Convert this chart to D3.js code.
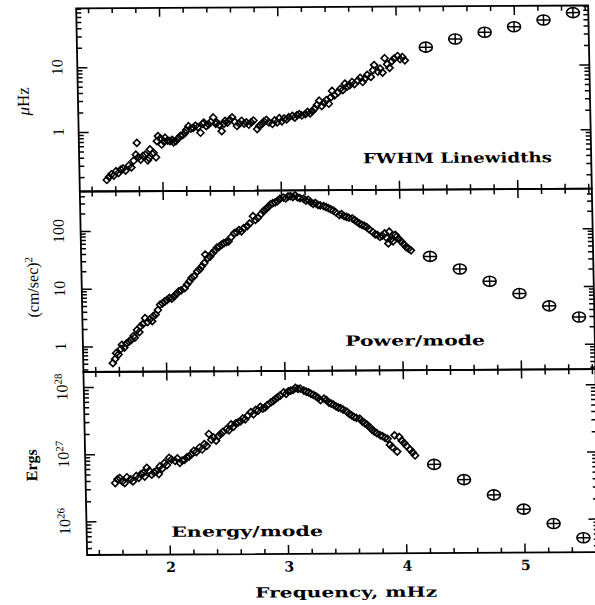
<!DOCTYPE html>
<html><head><meta charset="utf-8">
<script src="https://cdn.jsdelivr.net/npm/d3@7"></script>
<style>body{margin:0;background:#fff}svg{display:block}</style>
</head><body>
<svg id="c" width="595" height="605"></svg>
<script>
// ---------- DATA ----------
const lwFreq=[1.53,1.55,1.57,1.59,1.61,1.63,1.65,1.67,1.69,1.72,1.74,1.76,1.78,1.79,1.80,1.82,1.84,1.86,1.88,1.89,1.90,1.92,1.93,1.95,1.96,1.97,1.99,2.00,2.02,2.03,2.05,2.07,2.09,2.10,2.12,2.14,2.16,2.18,2.20,2.21,2.23,2.25,2.27,2.29,2.31,2.33,2.35,2.36,2.38,2.40,2.42,2.44,2.46,2.47,2.49,2.51,2.53,2.54,2.56,2.58,2.60,2.62,2.64,2.66,2.68,2.70,2.72,2.74,2.76,2.78,2.81,2.83,2.85,2.87,2.89,2.91,2.94,2.96,2.98,3.00,3.02,3.04,3.06,3.08,3.11,3.13,3.15,3.17,3.19,3.22,3.24,3.26,3.28,3.30,3.32,3.34,3.36,3.38,3.40,3.42,3.44,3.45,3.47,3.50,3.52,3.54,3.56,3.58,3.60,3.62,3.64,3.67,3.69,3.71,3.73,3.75,3.78,3.80,3.81,3.84,3.86,3.88,3.90,3.92,3.94,3.96,3.98,4.01,4.03,4.05,4.07];
const lwVal=[0.18,0.20,0.22,0.21,0.245,0.23,0.26,0.27,0.25,0.30,0.28,0.355,0.44,0.67,0.40,0.37,0.42,0.44,0.36,0.39,0.53,0.45,0.47,0.40,0.71,0.85,0.78,0.63,0.70,0.80,0.72,0.71,0.74,0.68,0.71,0.78,0.85,0.88,0.95,1.05,1.20,1.10,1.13,1.22,1.15,0.95,1.30,1.36,1.20,1.28,1.40,1.63,1.30,1.36,1.25,1.00,1.30,1.44,1.35,1.50,1.63,1.40,1.20,1.30,1.44,1.30,1.36,1.25,1.36,1.45,1.07,1.20,1.28,1.40,1.48,1.35,1.28,1.45,1.35,1.57,1.40,1.55,1.50,1.62,1.70,1.60,1.75,1.80,1.72,1.80,1.95,1.85,2.00,2.20,2.50,2.90,2.40,2.70,2.95,2.60,3.30,4.10,3.50,3.90,4.40,4.20,5.30,4.80,5.00,5.60,5.20,5.90,6.50,5.60,6.30,7.20,6.70,8.50,10.2,8.10,9.00,7.80,13.0,10.5,9.20,11.7,12.8,14.0,12.5,13.5,12.0];

const powFreq=[1.55,1.57,1.58,1.60,1.62,1.63,1.65,1.67,1.69,1.71,1.73,1.74,1.76,1.78,1.79,1.81,1.83,1.85,1.87,1.89,1.90,1.92,1.94,1.96,1.98,2.00,2.02,2.04,2.06,2.08,2.10,2.12,2.14,2.17,2.19,2.21,2.23,2.25,2.28,2.30,2.32,2.34,2.35,2.37,2.39,2.41,2.43,2.45,2.47,2.49,2.51,2.53,2.55,2.57,2.60,2.62,2.64,2.66,2.68,2.71,2.73,2.76,2.78,2.80,2.83,2.85,2.87,2.89,2.91,2.93,2.95,2.97,2.99,3.02,3.04,3.06,3.08,3.10,3.12,3.14,3.16,3.19,3.21,3.23,3.25,3.27,3.29,3.31,3.33,3.36,3.38,3.40,3.42,3.44,3.46,3.49,3.51,3.53,3.55,3.57,3.60,3.62,3.64,3.66,3.68,3.70,3.72,3.74,3.77,3.79,3.81,3.83,3.85,3.87,3.89,3.90,3.91,3.92,3.94,3.96,3.97,3.99,4.01,4.03,4.05,4.07,4.09];
const powVal=[0.51,0.60,0.76,0.72,0.90,1.06,0.95,1.12,1.20,1.29,1.50,1.40,1.90,1.75,2.20,2.40,3.05,2.60,2.90,2.70,3.30,3.50,4.20,5.20,5.50,5.90,6.30,6.80,6.60,7.20,8.00,8.80,9.20,10.0,11.5,13.0,15.0,16.0,19.5,21.0,24.0,27.0,38.0,33.0,35.0,40.0,44.0,50.0,52.0,56.0,60.0,62.0,64.0,75.0,89.0,92.0,100,95.0,108,117,130,174,150,162,190,212,230,250,276,290,300,315,345,363,350,380,385,370,395,363,355,344,320,330,300,281,290,270,263,255,245,235,225,214,200,178,185,170,166,160,155,145,135,126,120,115,110,100,90,82,80,74,78,85,70,57,91,66,62,80,74,68,61,55,49,46,43];

const enFreq=[1.55,1.57,1.59,1.61,1.63,1.65,1.68,1.70,1.73,1.75,1.77,1.79,1.80,1.82,1.84,1.86,1.88,1.90,1.92,1.93,1.95,1.97,1.99,2.01,2.03,2.06,2.08,2.10,2.12,2.14,2.16,2.18,2.20,2.22,2.24,2.27,2.29,2.31,2.33,2.35,2.37,2.39,2.41,2.43,2.45,2.47,2.50,2.52,2.54,2.56,2.58,2.60,2.62,2.64,2.66,2.68,2.71,2.73,2.75,2.77,2.79,2.81,2.83,2.85,2.88,2.90,2.92,2.94,2.96,2.99,3.01,3.03,3.05,3.07,3.09,3.11,3.13,3.16,3.18,3.20,3.22,3.24,3.26,3.28,3.30,3.33,3.35,3.37,3.39,3.41,3.43,3.45,3.47,3.49,3.52,3.54,3.56,3.58,3.60,3.63,3.65,3.67,3.69,3.71,3.73,3.75,3.77,3.80,3.82,3.84,3.86,3.88,3.90,3.92,3.94,3.96,3.98,4.00,4.02,4.05,4.07,4.09];
const enVal=[3.7e26,4.2e26,4.4e26,3.9e26,3.7e26,4.5e26,4.2e26,3.9e26,4.7e26,4.4e26,5.0e26,5.2e26,4.6e26,6.2e26,5.6e26,4.9e26,5.3e26,5.5e26,5.0e26,6.5e26,6.0e26,7.3e26,6.8e26,8.7e26,8.2e26,7.8e26,8.5e26,7.3e26,7.9e26,8.1e26,8.8e26,9.1e26,9.8e26,1.1e27,1.05e27,1.23e27,1.15e27,1.38e27,1.30e27,1.95e27,1.6e27,1.73e27,1.55e27,1.8e27,1.95e27,2.1e27,2.3e27,2.2e27,2.7e27,2.5e27,2.8e27,2.9e27,3.0e27,3.3e27,3.2e27,3.6e27,4.1e27,3.8e27,4.4e27,4.3e27,4.9e27,4.6e27,4.8e27,5.2e27,5.7e27,6.0e27,6.4e27,6.8e27,7.2e27,8.0e27,7.6e27,8.3e27,8.5e27,8.7e27,9.3e27,9.0e27,9.1e27,8.5e27,8.2e27,8.0e27,7.6e27,7.3e27,7.0e27,6.6e27,6.1e27,6.4e27,6.1e27,5.6e27,5.4e27,5.2e27,4.9e27,4.7e27,4.6e27,4.4e27,4.1e27,3.8e27,3.6e27,3.4e27,3.3e27,3.2e27,2.9e27,2.75e27,2.6e27,2.4e27,2.2e27,2.05e27,1.95e27,1.8e27,1.75e27,1.65e27,1.6e27,1.3e27,1.2e27,1.8e27,1.03e27,1.7e27,1.5e27,1.38e27,1.25e27,1.1e27,1.0e27,9.0e26];

const ccFreq=[4.25,4.50,4.75,5.00,5.25,5.50];
const ccLw=[19.1,25.4,32.1,38.9,49.1,63.4];
const ccPow=[33.6,20.2,12.3,7.5,4.55,2.9];
const ccEn=[6.6e26,3.9e26,2.3e26,1.4e26,8.5e25,5.2e25];

const xTickLabels=[2,3,4,5];
const lwTicks=[1,10];
const powTicks=[1,10,100];
const enTickExp=[26,27,28];

// ---------- LAYOUT ----------
const L=76,R=588;
const P=[{top:8.3,bot:191.5},{top:191.5,bot:372},{top:372,bot:555}];
const x=d3.scaleLinear().domain([1.3,5.63]).range([L,R]);
const yLw=d3.scaleLog().domain([0.12,81.6]).range([P[0].bot,P[0].top]);
const yPow=d3.scaleLog().domain([0.361,483]).range([P[1].bot,P[1].top]);
const yEn=d3.scaleLog().domain([Math.pow(10,25.5),Math.pow(10,28.223)]).range([P[2].bot,P[2].top]);

const svg=d3.select('#c');
svg.append('rect').attr('width',595).attr('height',605).attr('fill','#fff');
const g=svg.append('g').attr('transform','matrix(1,-0.0055,0.02,1,0,0.418)');

function logMinor(y){
  const [a,b]=y.domain();const out=[];
  for(let n=Math.floor(Math.log10(a));n<=Math.ceil(Math.log10(b));n++){
    for(let k=2;k<=9;k++){const v=k*Math.pow(10,n); if(v>=a&&v<=b) out.push(v);}
  }
  return out;
}
function logMajor(y){
  const [a,b]=y.domain();const out=[];
  for(let n=Math.floor(Math.log10(a));n<=Math.ceil(Math.log10(b));n++){const v=Math.pow(10,n); if(v>=a&&v<=b) out.push(v);}
  return out;
}
function side(gp,fn,scale,vals,size,tx,ty){
  const a=gp.append('g').attr('transform',`translate(${tx},${ty})`)
    .call(fn(scale).tickValues(vals).tickSize(size).tickSizeOuter(0).tickFormat(''));
  a.select('.domain').remove();
  a.selectAll('line').attr('stroke','#000').attr('stroke-width',1.5);
}
const xMinor=d3.range(14,57,2).map(d=>d/10).filter(d=>Math.abs(d-Math.round(d))>1e-6);

function panel(p,y,freq,vals,cc){
  const gp=g.append('g');
  gp.append('rect').attr('x',L).attr('y',p.top).attr('width',R-L).attr('height',p.bot-p.top)
    .attr('fill','none').attr('stroke','#000').attr('stroke-width',1.8);
  side(gp,d3.axisBottom,x,xTickLabels,-9,0,p.bot);
  side(gp,d3.axisBottom,x,xMinor,-5,0,p.bot);
  side(gp,d3.axisTop,x,xTickLabels,-9,0,p.top);
  side(gp,d3.axisTop,x,xMinor,-5,0,p.top);
  side(gp,d3.axisLeft,y,logMajor(y),-10,L,0);
  side(gp,d3.axisLeft,y,logMinor(y),-5,L,0);
  side(gp,d3.axisRight,y,logMajor(y),-10,R,0);
  side(gp,d3.axisRight,y,logMinor(y),-5,R,0);
  const s=3.5;
  gp.append('g').selectAll('path').data(freq.map((f,i)=>[f,vals[i]])).join('path')
    .attr('d',`M0,${-s}L${s},0L0,${s}L${-s},0Z`)
    .attr('transform',d=>`translate(${x(d[0])},${y(d[1])})`)
    .attr('fill','none').attr('stroke','#000').attr('stroke-width',1.6);
  const c=gp.append('g').selectAll('g').data(ccFreq.map((f,i)=>[f,cc[i]])).join('g')
    .attr('transform',d=>`translate(${x(d[0])},${y(d[1])})`);
  c.append('ellipse').attr('rx',6.5).attr('ry',5).attr('fill','#fff').attr('stroke','#000').attr('stroke-width',1.6);
  c.append('line').attr('x1',-6.5).attr('x2',6.5).attr('stroke','#000').attr('stroke-width',1.5);
  c.append('line').attr('y1',-5).attr('y2',5).attr('stroke','#000').attr('stroke-width',1.5);
  return gp;
}
panel(P[0],yLw,lwFreq,lwVal,ccLw);
panel(P[1],yPow,powFreq,powVal,ccPow);
panel(P[2],yEn,enFreq,enVal,ccEn);

// ---------- TEXT ----------
const serif='"Liberation Serif","DejaVu Serif",serif';
const slab='"DejaVu Serif","Liberation Serif",serif';
function vlabel(xp,yp,txt,opts={}){
  const t=g.append('text').attr('transform',`translate(${xp},${yp}) rotate(-90)`)
    .attr('text-anchor','middle').attr('dy','0.35em')
    .attr('font-family',opts.font||serif).attr('font-size',opts.size||15)
    .attr('font-weight',opts.weight||'normal').attr('fill','#000');
  return t;
}
lwTicks.forEach(v=>vlabel(55.5,yLw(v),'',{size:16}).text(v));
powTicks.forEach(v=>vlabel(53.5,yPow(v),'',{size:16}).text(v));
enTickExp.forEach(e=>{
  const t=vlabel(54,yEn(Math.pow(10,e)),'',{size:16});
  t.append('tspan').text('10');
  t.append('tspan').attr('dy','-0.5em').attr('font-size',11).text(e);
});
// axis titles
{const t=vlabel(21,101,'',{size:17});
 t.append('tspan').attr('font-style','italic').text('μ');
 t.append('tspan').text('Hz');}
{const t=vlabel(27,287,'',{size:16});
 t.append('tspan').text('(cm/sec)');
 t.append('tspan').attr('dy','-0.5em').attr('font-size',11).text('2');}
vlabel(22,465,'',{size:16,weight:'bold'}).text('Ergs');

function ann(xp,yp,txt,len){
  g.append('text').attr('x',xp).attr('y',yp).attr('font-family',slab).attr('font-weight','bold')
    .attr('font-size',14).attr('textLength',len).attr('lengthAdjust','spacingAndGlyphs').attr('fill','#000').text(txt);
}
ann(359.8,164.8,'FWHM Linewidths',189);
ann(338.2,347.3,'Power/mode',140);
ann(160.4,537.2,'Energy/mode',152);
ann(243.2,598.5,'Frequency, mHz',182);

g.append('g').selectAll('text').data(xTickLabels).join('text')
  .attr('x',d=>x(d)+1).attr('y',572.5).attr('text-anchor','middle')
  .attr('font-family',slab).attr('font-weight','bold').attr('font-size',14).attr('fill','#000').text(d=>d);
</script>
</body></html>
